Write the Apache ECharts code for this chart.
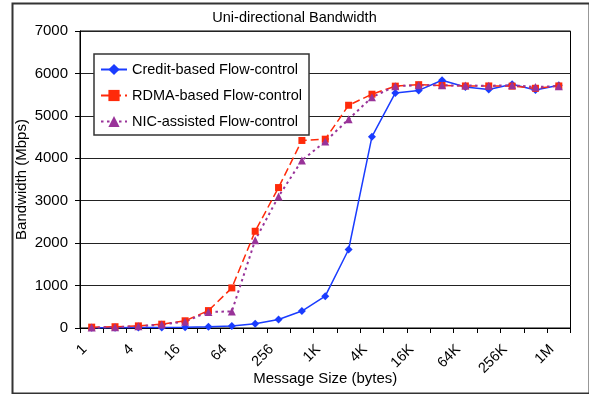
<!DOCTYPE html>
<html>
<head>
<meta charset="utf-8">
<script src="https://cdn.jsdelivr.net/npm/echarts@6/dist/echarts.min.js"></script>
<style>
html,body{margin:0;padding:0;background:#fff;}
#chart{width:589px;height:394px;}
</style>
</head>
<body>
<div id="chart"></div>
<script>
var categories = ['1','2','4','8','16','32','64','128','256','512','1K','2K','4K','8K','16K','32K','64K','128K','256K','512K','1M'];
var creditBased = [5, 8, 10, 12, 15, 30, 50, 100, 200, 400, 750, 1850, 4510, 5540, 5600, 5840, 5680, 5620, 5745, 5610, 5720];
var rdmaBased = [20, 30, 50, 90, 170, 410, 945, 2280, 3310, 4420, 4450, 5250, 5510, 5700, 5735, 5715, 5705, 5705, 5700, 5650, 5705];
var nicAssisted = [10, 20, 40, 80, 150, 380, 390, 2070, 3100, 3950, 4395, 4920, 5440, 5700, 5720, 5720, 5715, 5710, 5720, 5680, 5700];
var seriesNames = ['Credit-based Flow-control', 'RDMA-based Flow-control', 'NIC-assisted Flow-control'];
var yTicks = [0, 1000, 2000, 3000, 4000, 5000, 6000, 7000];

var FONT = "'Liberation Sans', Arial, Helvetica, sans-serif";
var chart = echarts.init(document.getElementById('chart'), null, {renderer: 'canvas'});
chart.setOption({
  animation: false,
  backgroundColor: '#fff',
  textStyle: {fontFamily: FONT},
  title: {
    text: 'Uni-directional Bandwidth',
    left: 'center', top: 5,
    textStyle: {fontFamily: FONT, fontSize: 14.5, fontWeight: 'normal', color: '#000'}
  },
  graphic: [{
    type: 'rect', left: 10, top: 1, z: 0, silent: true,
    shape: {width: 577, height: 390},
    style: {fill: 'none', stroke: '#333', lineWidth: 2}
  }],
  grid: {left: 80, right: 18.5, top: 31, bottom: 66, containLabel: false, outerBoundsMode: 'none',
         show: true, borderColor: '#000', borderWidth: 1, backgroundColor: 'transparent'},
  legend: {
    orient: 'vertical', left: 94, top: 54,
    data: seriesNames,
    itemWidth: 26, itemHeight: 14, itemGap: 11,
    padding: [8, 7, 6, 6],
    backgroundColor: '#fff', borderColor: '#333', borderWidth: 1.5,
    textStyle: {fontFamily: FONT, fontSize: 14.5, color: '#000'}
  },
  xAxis: {
    type: 'category', data: categories, boundaryGap: true,
    name: 'Message Size (bytes)', nameLocation: 'middle', nameGap: 43, nameMoveOverlap: false,
    nameTextStyle: {fontFamily: FONT, fontSize: 15, color: '#000'},
    axisLine: {lineStyle: {color: '#000', width: 1}},
    axisTick: {show: true, interval: 0, length: 5, lineStyle: {color: '#000'}},
    axisLabel: {interval: 1, rotate: 45, margin: 12, padding: [0, 10, 0, 0], fontFamily: FONT, fontSize: 14.5, color: '#000'},
    splitLine: {show: false}
  },
  yAxis: {
    type: 'value', min: yTicks[0], max: yTicks[yTicks.length - 1], interval: 1000,
    name: 'Bandwidth (Mbps)', nameLocation: 'middle', nameGap: 51, nameRotate: 90, nameMoveOverlap: false,
    nameTextStyle: {fontFamily: FONT, fontSize: 15, color: '#000'},
    axisLine: {show: true, lineStyle: {color: '#000', width: 1}},
    axisTick: {show: true, length: 5, lineStyle: {color: '#000'}},
    axisLabel: {margin: 12, fontFamily: FONT, fontSize: 15, color: '#000', formatter: function (v) { return String(v); }},
    splitLine: {show: true, lineStyle: {color: '#222', width: 1}}
  },
  series: [
    {
      name: seriesNames[0], type: 'line', data: creditBased,
      symbol: 'diamond', symbolSize: 8, showAllSymbol: true,
      itemStyle: {color: '#1a3cff'},
      lineStyle: {color: '#1a3cff', width: 1.5, type: 'solid'}
    },
    {
      name: seriesNames[1], type: 'line', data: rdmaBased,
      symbol: 'rect', symbolSize: 7, showAllSymbol: true,
      itemStyle: {color: '#ff2a0a'},
      lineStyle: {color: '#ff2a0a', width: 1.5, type: [8, 4]}
    },
    {
      name: seriesNames[2], type: 'line', data: nicAssisted,
      symbol: 'triangle', symbolSize: 8, showAllSymbol: true,
      itemStyle: {color: '#993399'},
      lineStyle: {color: '#993399', width: 2, type: [2.5, 3.5]}
    }
  ]
});
</script>
</body>
</html>
